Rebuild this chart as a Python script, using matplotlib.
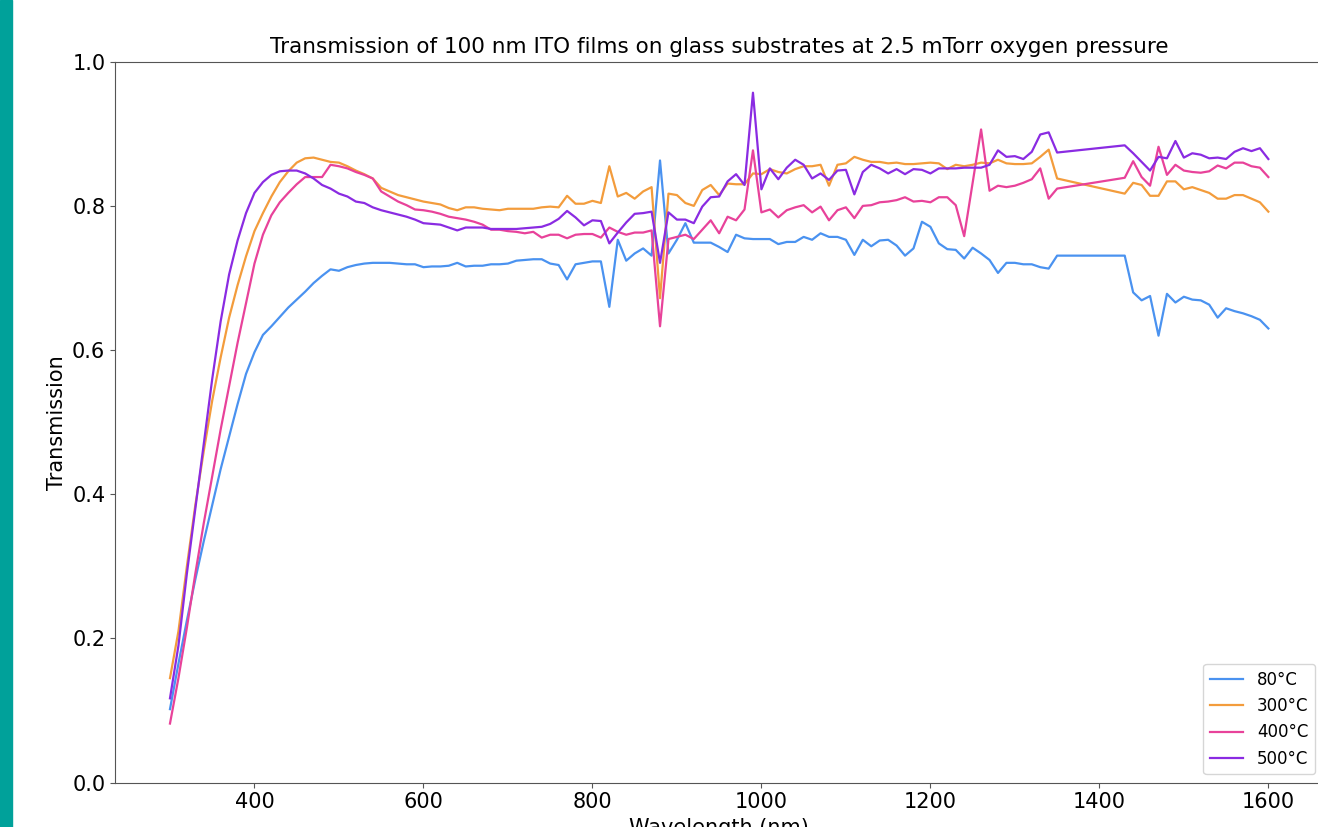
import numpy as np
import matplotlib
matplotlib.use("Agg")
import matplotlib.pyplot as plt
from matplotlib.patches import Rectangle

# wavelength grid (nm) - no points between 1350 and 1430
wavelength = list(range(300, 1360, 10)) + list(range(1430, 1610, 10))

labels = ["80°C", "300°C", "400°C", "500°C"]
colors = ["#4a92f0", "#f39c3c", "#e8429a", "#8a2be2"]

t_80 = [
    0.102, 0.165, 0.225, 0.282, 0.335, 0.385, 0.435, 0.480, 0.525, 0.567,  # 300-390
    0.597, 0.621, 0.633, 0.646, 0.659, 0.670, 0.681, 0.693, 0.703, 0.712,  # 400-490
    0.710, 0.715, 0.718, 0.720, 0.721, 0.721, 0.721, 0.720, 0.719, 0.719,  # 500-590
    0.715, 0.716, 0.716, 0.717, 0.721, 0.716, 0.717, 0.717, 0.719, 0.719,  # 600-690
    0.720, 0.724, 0.725, 0.726, 0.726, 0.720, 0.718, 0.698, 0.719, 0.721,  # 700-790
    0.723, 0.723, 0.660, 0.753, 0.724, 0.734, 0.741, 0.731, 0.863, 0.734,  # 800-890
    0.753, 0.776, 0.749, 0.749, 0.749, 0.743, 0.736, 0.760, 0.755, 0.754,  # 900-990
    0.754, 0.754, 0.747, 0.750, 0.750, 0.757, 0.753, 0.762, 0.757, 0.757,  # 1000-1090
    0.753, 0.732, 0.753, 0.744, 0.752, 0.753, 0.745, 0.731, 0.741, 0.778,  # 1100-1190
    0.771, 0.748, 0.740, 0.739, 0.727, 0.742, 0.734, 0.725, 0.707, 0.721,  # 1200-1290
    0.721, 0.719, 0.719, 0.715, 0.713, 0.731,                              # 1300-1350
    0.731, 0.680, 0.669, 0.675, 0.620, 0.678, 0.666, 0.674, 0.670, 0.669,  # 1430-1520
    0.663, 0.645, 0.658, 0.654, 0.651, 0.647, 0.642, 0.630,                # 1530-1600
]

t_300 = [
    0.145, 0.210, 0.300, 0.385, 0.460, 0.530, 0.590, 0.645, 0.690, 0.730,
    0.765, 0.790, 0.813, 0.833, 0.848, 0.860, 0.866, 0.867, 0.864, 0.861,
    0.860, 0.855, 0.849, 0.844, 0.838, 0.825, 0.820, 0.815, 0.812, 0.809,
    0.806, 0.804, 0.802, 0.797, 0.794, 0.798, 0.798, 0.796, 0.795, 0.794,
    0.796, 0.796, 0.796, 0.796, 0.798, 0.799, 0.798, 0.814, 0.803, 0.803,
    0.807, 0.804, 0.855, 0.813, 0.818, 0.810, 0.820, 0.826, 0.672, 0.817,
    0.815, 0.804, 0.800, 0.822, 0.829, 0.815, 0.831, 0.830, 0.830, 0.845,
    0.844, 0.851, 0.847, 0.845, 0.851, 0.855, 0.855, 0.857, 0.828, 0.857,
    0.859, 0.868, 0.864, 0.861, 0.861, 0.859, 0.860, 0.858, 0.858, 0.859,
    0.860, 0.859, 0.851, 0.857, 0.855, 0.857, 0.860, 0.859, 0.864, 0.859,
    0.858, 0.858, 0.859, 0.868, 0.878, 0.838,
    0.817, 0.832, 0.829, 0.814, 0.814, 0.834, 0.834, 0.823, 0.826, 0.822,
    0.818, 0.810, 0.810, 0.815, 0.815, 0.810, 0.805, 0.792,
]

t_400 = [
    0.082, 0.145, 0.215, 0.290, 0.360, 0.425, 0.490, 0.550, 0.610, 0.665,
    0.720, 0.760, 0.787, 0.805, 0.818, 0.830, 0.840, 0.840, 0.840, 0.857,
    0.855, 0.852, 0.847, 0.843, 0.838, 0.820, 0.813, 0.806, 0.801, 0.795,
    0.794, 0.792, 0.789, 0.785, 0.783, 0.781, 0.778, 0.774, 0.767, 0.767,
    0.765, 0.764, 0.762, 0.764, 0.756, 0.760, 0.760, 0.755, 0.760, 0.761,
    0.761, 0.756, 0.770, 0.764, 0.760, 0.763, 0.763, 0.766, 0.633, 0.754,
    0.757, 0.760, 0.754, 0.767, 0.780, 0.762, 0.785, 0.780, 0.795, 0.877,
    0.791, 0.795, 0.784, 0.794, 0.798, 0.801, 0.791, 0.799, 0.780, 0.794,
    0.798, 0.783, 0.800, 0.801, 0.805, 0.806, 0.808, 0.812, 0.806, 0.807,
    0.805, 0.812, 0.812, 0.801, 0.758, 0.832, 0.906, 0.821, 0.828, 0.826,
    0.828, 0.832, 0.837, 0.852, 0.810, 0.824,
    0.839, 0.862, 0.840, 0.828, 0.882, 0.843, 0.857, 0.849, 0.847, 0.846,
    0.848, 0.856, 0.852, 0.860, 0.860, 0.855, 0.853, 0.840,
]

t_500 = [
    0.117, 0.190, 0.290, 0.380, 0.470, 0.560, 0.640, 0.705, 0.752, 0.790,
    0.818, 0.833, 0.843, 0.848, 0.849, 0.849, 0.845, 0.838, 0.829, 0.824,
    0.817, 0.813, 0.806, 0.804, 0.798, 0.794, 0.791, 0.788, 0.785, 0.781,
    0.776, 0.775, 0.774, 0.770, 0.766, 0.770, 0.770, 0.770, 0.768, 0.768,
    0.768, 0.768, 0.769, 0.770, 0.771, 0.775, 0.782, 0.793, 0.784, 0.773,
    0.780, 0.779, 0.748, 0.763, 0.777, 0.789, 0.790, 0.792, 0.721, 0.791,
    0.781, 0.781, 0.776, 0.799, 0.812, 0.813, 0.834, 0.844, 0.829, 0.957,
    0.823, 0.852, 0.837, 0.853, 0.864, 0.857, 0.838, 0.845, 0.836, 0.849,
    0.850, 0.816, 0.847, 0.857, 0.852, 0.845, 0.851, 0.844, 0.851, 0.850,
    0.845, 0.852, 0.852, 0.852, 0.853, 0.853, 0.853, 0.857, 0.877, 0.868,
    0.869, 0.865, 0.875, 0.899, 0.902, 0.874,
    0.884, 0.873, 0.861, 0.849, 0.868, 0.866, 0.890, 0.867, 0.873, 0.871,
    0.866, 0.867, 0.865, 0.875, 0.880, 0.876, 0.880, 0.865,
]

series = [t_80, t_300, t_400, t_500]

fig = plt.figure(figsize=(13.18, 8.27), dpi=100)
# teal strip down the left edge of the screenshot
fig.patches.append(Rectangle((0, 0), 0.009, 1, transform=fig.transFigure,
                             color="#00a19a", zorder=0))

# axes run past the right edge of the picture, like the cropped original
ax = fig.add_axes([0.0873, 0.0536, 0.9167, 0.8718])

for vals, lab, col in zip(series, labels, colors):
    ax.plot(wavelength, vals, color=col, linewidth=1.6, label=lab)

ax.set_ylim(0, 1.0)
ax.set_yticks([0.0, 0.2, 0.4, 0.6, 0.8, 1.0])
ax.set_xticks([400, 600, 800, 1000, 1200, 1400, 1600])
ax.tick_params(labelsize=15, color="#555555")
for sp in ax.spines.values():
    sp.set_color("#555555")

ax.set_title("Transmission of 100 nm ITO films on glass substrates at 2.5 mTorr oxygen pressure", fontsize=15.5)
ax.set_xlabel("Wavelength (nm)", fontsize=15)
ax.set_ylabel("Transmission", fontsize=15)
ax.legend(loc="lower right", fontsize=12)

fig.savefig("out.png", dpi=100)
